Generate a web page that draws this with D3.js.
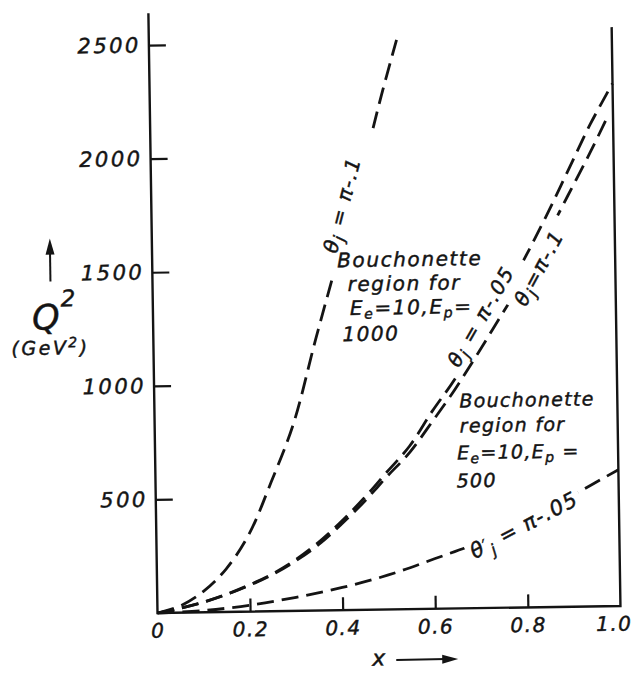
<!DOCTYPE html>
<html>
<head>
<meta charset="utf-8">
<script src="https://cdn.jsdelivr.net/npm/d3@7"></script>
<style>
  html, body { margin: 0; padding: 0; background: #fff; }
  svg { display: block; }
  text { font-family: "DejaVu Sans", sans-serif; font-style: oblique; fill: #141414; stroke: #141414; stroke-width: 0.45px; }
</style>
</head>
<body>
<svg id="chart" width="633" height="673"></svg>
<script>
// Axis ticks
const xTicks = [0, 0.2, 0.4, 0.6, 0.8, 1.0];
const xTickLabels = ["0", "0.2", "0.4", "0.6", "0.8", "1.0"];
const yTicks = [500, 1000, 1500, 2000, 2500];
const yTickLabels = ["500", "1000", "1500", "2000", "2500"];

// theta_j = pi - .1, Ee = 10, Ep = 1000
const thetaA_x  = [0, 0.05, 0.1, 0.15, 0.2, 0.25, 0.3, 0.35, 0.4, 0.45, 0.5, 0.535];
const thetaA_q2 = [0, 30, 92, 190, 340, 570, 825, 1190, 1540, 1880, 2260, 2506];

// theta_j = pi - .05, Ee = 10, Ep = 1000
const thetaB1_x  = [0, 0.05, 0.1, 0.15, 0.2, 0.25, 0.3, 0.35, 0.4, 0.45, 0.5, 0.55, 0.6, 0.65, 0.7, 0.75, 0.8, 0.85, 0.9, 0.95, 1.0];
const thetaB1_q2 = [0, 20, 45, 78, 118, 165, 225, 300, 390, 492, 605, 718, 870, 1010, 1180, 1345, 1520, 1711, 1915, 2120, 2300];

// theta'_j = pi - .1, Ee = 10, Ep = 500
const thetaB2_x  = [0, 0.05, 0.1, 0.15, 0.2, 0.25, 0.3, 0.35, 0.4, 0.45, 0.5, 0.55, 0.6, 0.65, 0.7, 0.75, 0.8, 0.85, 0.9, 0.95, 0.99];
const thetaB2_q2 = [0, 20, 45, 77, 116, 162, 220, 290, 378, 476, 585, 690, 825, 965, 1120, 1280, 1440, 1620, 1810, 2000, 2162];

// theta'_j = pi - .05, Ee = 10, Ep = 500
const thetaC_x  = [0, 0.1, 0.2, 0.3, 0.4, 0.5, 0.6, 0.7, 0.8, 0.9, 1.0];
const thetaC_q2 = [0, 8, 28, 60, 100, 152, 220, 292, 385, 490, 600];

const ink = "#141414";
const svg = d3.select("#chart");
const defs = svg.append("defs");

// plot frame, origin at the lower-left corner, slightly tilted like the printed sheet
const g = svg.append("g").attr("transform", "translate(157.5,613) rotate(-0.87)");

const x = d3.scaleLinear().domain([0, 1]).range([0, 463]);
const y = d3.scaleLinear().domain([0, 2500]).range([0, -568]);

// axes box: left axis, bottom axis, closing line at x = 1
g.append("path")
  .attr("d", `M0,${y(2640)}V0H${x(1)}V${y(2548)}`)
  .attr("fill", "none").attr("stroke", ink).attr("stroke-width", 2.4);

const yAxis = d3.axisLeft(y)
  .tickValues(yTicks)
  .tickFormat(d => yTickLabels[yTicks.indexOf(d)])
  .tickSizeInner(-17).tickSizeOuter(0).tickPadding(8);
const gy = g.append("g").call(yAxis);
gy.select(".domain").remove();
gy.selectAll("line").attr("stroke", ink).attr("stroke-width", 2.2);
gy.selectAll("text").attr("fill", ink).style("font-size", "21px").style("letter-spacing", "2.5px");

const xAxis = d3.axisBottom(x)
  .tickValues(xTicks)
  .tickFormat(d => xTickLabels[xTicks.indexOf(d)])
  .tickSizeInner(-13).tickSizeOuter(0).tickPadding(10.5);
const gx = g.append("g").call(xAxis);
gx.select(".domain").remove();
gx.selectAll("line").attr("stroke", ink).attr("stroke-width", 2.2)
  .attr("display", d => (d === 0 || d === 1) ? "none" : null);
gx.selectAll("text").attr("fill", ink).style("font-size", "20px").style("letter-spacing", "1.5px")
  .attr("dx", d => d === 1 ? -7 : null);

// axis titles
g.append("text").attr("x", 214).attr("y", 56).style("font-size", "22px").text("x");
g.append("line").attr("x1", 238).attr("y1", 50.5).attr("x2", 288).attr("y2", 50.5)
  .attr("stroke", ink).attr("stroke-width", 2);
g.append("path").attr("d", "M300,50.5L284,46L284,55Z").attr("fill", ink);

const qLabel = g.append("text").attr("x", -121).attr("y", -285).style("font-size", "35px");
qLabel.append("tspan").text("Q");
qLabel.append("tspan").attr("x", -92).attr("y", -308).style("font-size", "23px").text("2");

g.append("line").attr("x1", -102).attr("y1", -333).attr("x2", -102).attr("y2", -362)
  .attr("stroke", ink).attr("stroke-width", 2);
g.append("path").attr("d", "M-102,-376L-106.5,-360L-97.5,-360Z").attr("fill", ink);

const unit = g.append("text").attr("x", -142).attr("y", -260)
  .style("font-size", "19px").style("letter-spacing", "2.5px");
unit.append("tspan").text("(GeV");
unit.append("tspan").attr("dy", -7).style("font-size", "14px").text("2");
unit.append("tspan").attr("dy", 7).text(")");

// dashed boundary curves, each with a mask that opens a gap under its label
const line = d3.line()
  .x(d => x(d[0])).y(d => y(d[1]))
  .curve(d3.curveCatmullRom.alpha(0.5));

function makeMask(id) {
  const m = defs.append("mask").attr("id", id)
    .attr("maskUnits", "userSpaceOnUse")
    .attr("x", -300).attr("y", -800).attr("width", 1000).attr("height", 1000);
  m.append("rect").attr("x", -300).attr("y", -800).attr("width", 1000).attr("height", 1000).attr("fill", "#fff");
  return m;
}

const curves = [
  { id: "A",  xs: thetaA_x,  qs: thetaA_q2 },
  { id: "B1", xs: thetaB1_x, qs: thetaB1_q2 },
  { id: "B2", xs: thetaB2_x, qs: thetaB2_q2 },
  { id: "C",  xs: thetaC_x,  qs: thetaC_q2 }
];
const masks = {};
curves.forEach(c => {
  masks[c.id] = makeMask("gap-" + c.id);
  g.append("path")
    .datum(c.xs.map((v, i) => [v, c.qs[i]]))
    .attr("d", line)
    .attr("fill", "none")
    .attr("stroke", ink)
    .attr("stroke-width", 2.8)
    .attr("stroke-dasharray", "17 8")
    .attr("mask", `url(#gap-${c.id})`);
});

// rotated curve labels; parts: [text, fontSize, dy]
function curveLabel(curveId, parts, xv, qv, angle, size, spacing, padLo, padHi) {
  const tf = `translate(${x(xv)},${y(qv)}) rotate(${angle})`;
  const t = g.append("text")
    .attr("transform", tf)
    .attr("y", size * 0.35)
    .attr("text-anchor", "middle")
    .style("font-size", size + "px")
    .style("letter-spacing", spacing + "px");
  parts.forEach(p => {
    const s = t.append("tspan").text(p[0]);
    if (p[1]) s.style("font-size", p[1] + "px");
    if (p[2]) s.attr("dy", p[2]);
  });
  const bb = t.node().getBBox();
  masks[curveId].append("rect")
    .attr("transform", tf)
    .attr("x", bb.x - padLo).attr("y", bb.y - 4)
    .attr("width", bb.width + padLo + padHi).attr("height", bb.height + 8)
    .attr("fill", "#000");
}

curveLabel("A",  [["θ"], ["j", 16, 4], [" = π-.1", null, -4]], 0.412, 1783, -74.7, 20, 1.5, 22, 26);
curveLabel("B1", [["θ"], ["j", 16, 4], [" = π-.05", null, -4]], 0.708, 1283, -59, 20, 1.5, 6, 14);
curveLabel("B2", [["θ"], ["j", 16, 4], ["=π-.1", null, -4]], 0.835, 1493, -61, 20, 1.5, 6, 14);
curveLabel("C",  [["θ"], ["′", 16, -2], ["j", 16, 8], [" = π-.05", null, -6]], 0.794, 363, -27, 21, 1.2, 4, 4);

// region annotations
function region(lines, x0s, ys, size, spacing) {
  lines.forEach((parts, i) => {
    const t = g.append("text").attr("x", x0s[i]).attr("y", ys[i])
      .style("font-size", size + "px").style("letter-spacing", spacing + "px");
    parts.forEach(p => {
      const s = t.append("tspan").text(p[0]);
      if (p[1]) s.style("font-size", p[1] + "px");
      if (p[2]) s.attr("dy", p[2]);
    });
  });
}

region([
  [["Bouchonette"]],
  [["region for"]],
  [["E"], ["e", 14, 4], ["=10,E", null, -4], ["p", 14, 4], ["=", null, -4]],
  [["1000"]]
], [185, 195, 197, 189], [-343, -319, -295, -269], 20, 1.6);

region([
  [["Bouchonette"]],
  [["region for"]],
  [["E"], ["e", 14, 4], ["=10,E", null, -4], ["p", 14, 4], [" =", null, -4]],
  [["500"]]
], [305, 305, 302, 301], [-201, -176, -149, -121], 19, 1.3);
</script>
</body>
</html>
